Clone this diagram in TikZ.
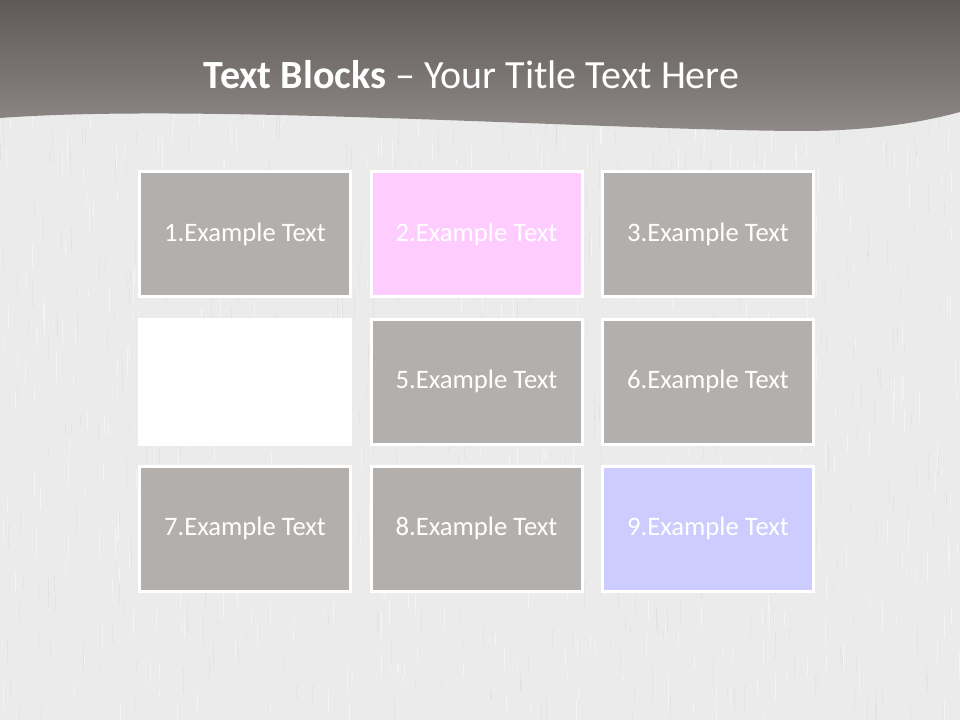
\documentclass[tikz,border=0pt]{standalone}
\usepackage{fontspec}
\setmainfont{Carlito}
\definecolor{bgc}{HTML}{EBEBEB}
\definecolor{hdtop}{HTML}{5F5A58}
\definecolor{hdbot}{HTML}{8E8987}
\definecolor{boxgray}{HTML}{B3AFAD}
\definecolor{boxpink}{HTML}{FFCCFF}
\definecolor{boxblue}{HTML}{CCCCFF}
\definecolor{streakd}{HTML}{D8D8D8}
\tikzset{
  tblock/.style={rectangle, draw=white, line width=2.25pt, inner sep=0pt,
    minimum width=158.25pt, minimum height=93.75pt, text=white,
    font=\fontsize{20}{24}\selectfont},
}
\begin{document}
\begin{tikzpicture}[x=0.75pt,y=-0.75pt]
\useasboundingbox (0,0) rectangle (960,720);
\fill[bgc] (0,0) rectangle (960,720);
\pgfmathsetseed{11}
\foreach \i in {1,...,500} {
  \pgfmathsetmacro\xx{random(0,960)}
  \pgfmathsetmacro\yy{random(100,715)}
  \pgfmathsetmacro\ll{random(6,30)}
  \draw[streakd, line width=0.5pt, opacity=0.4] (\xx,\yy) -- (\xx,\yy+\ll);
}
\foreach \i in {1,...,500} {
  \pgfmathsetmacro\xx{random(0,960)}
  \pgfmathsetmacro\yy{random(100,715)}
  \pgfmathsetmacro\ll{random(6,30)}
  \draw[white, line width=0.5pt, opacity=0.45] (\xx,\yy) -- (\xx,\yy+\ll);
}
\shade[top color=hdtop, bottom color=hdbot]
  (0,0) -- (960,0) -- (960,112)
  .. controls (930,120) and (880,131) .. (800,131)
  .. controls (600,130) and (200,103) .. (0,118) -- cycle;
\node[text=white, font=\fontsize{30}{36}\selectfont] (title) at (471.5,75)
  {\textbf{Text Blocks} – Your Title Text Here};
\node[tblock, fill=boxgray] (b1) at (245,234) {1.Example Text};
\node[tblock, fill=boxpink] (b2) at (476.5,234) {2.Example Text};
\node[tblock, fill=boxgray] (b3) at (708,234) {3.Example Text};
\node[tblock, fill=white] (b4) at (244.5,381.5) {};
\node[tblock, fill=boxgray] (b5) at (476.5,381.5) {5.Example Text};
\node[tblock, fill=boxgray] (b6) at (708,381.5) {6.Example Text};
\node[tblock, fill=boxgray] (b7) at (245,528.5) {7.Example Text};
\node[tblock, fill=boxgray] (b8) at (476.5,528.5) {8.Example Text};
\node[tblock, fill=boxblue] (b9) at (708,528.5) {9.Example Text};
\end{tikzpicture}
\end{document}
